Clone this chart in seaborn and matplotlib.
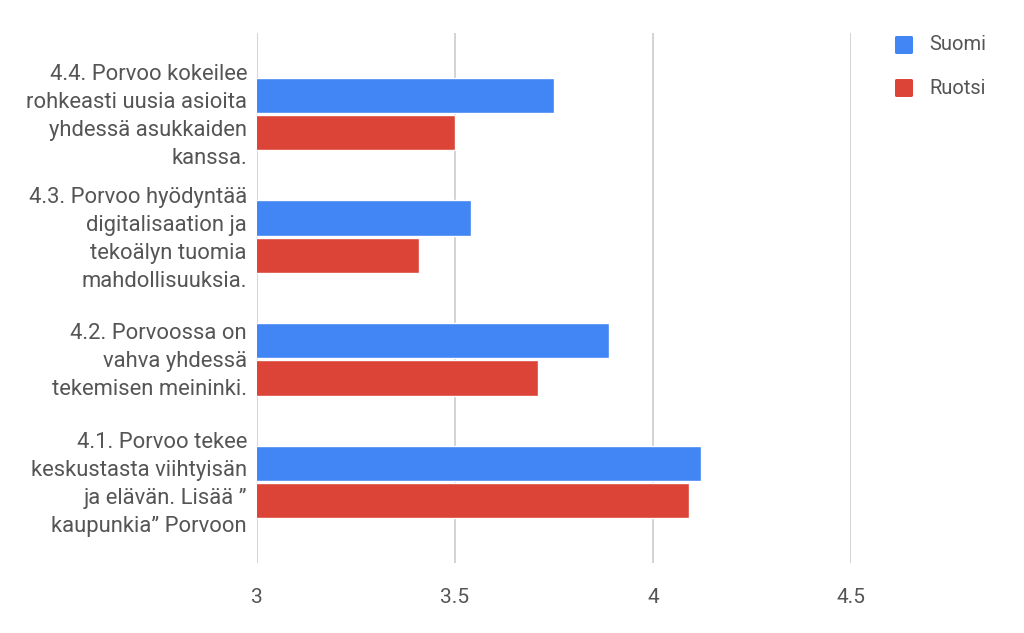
import seaborn as sns
import matplotlib.pyplot as plt
import matplotlib.transforms as mtransforms
import pandas as pd
from matplotlib.patches import FancyBboxPatch

kysymykset = [
    "4.4. Porvoo kokeilee\nrohkeasti uusia asioita\nyhdessä asukkaiden\nkanssa.",
    "4.3. Porvoo hyödyntää\ndigitalisaation ja\ntekoälyn tuomia\nmahdollisuuksia.",
    "4.2. Porvoossa on\nvahva yhdessä\ntekemisen meininki.",
    "4.1. Porvoo tekee\nkeskustasta viihtyisän\nja elävän. Lisää ”\nkaupunkia” Porvoon",
]
suomi = [3.75, 3.54, 3.89, 4.12]
ruotsi = [3.50, 3.41, 3.71, 4.09]
sarjat = ["Suomi", "Ruotsi"]
varit = ["#4285F4", "#DB4437"]
xticks = [3, 3.5, 4, 4.5]

df = pd.DataFrame({
    "kysymys": kysymykset * 2,
    "arvo": suomi + ruotsi,
    "kieli": ["Suomi"] * 4 + ["Ruotsi"] * 4,
})

sns.set_style("white")
plt.rcParams["font.family"] = ["Roboto", "DejaVu Sans"]

fig = plt.figure(figsize=(10.24, 6.33), dpi=100)
ax = fig.add_axes([257 / 1024, 70 / 633, (851 - 257) / 1024, (563 - 33) / 633])

sns.barplot(data=df, x="arvo", y="kysymys", hue="kieli", order=kysymykset,
            hue_order=sarjat, palette=varit, orient="h", width=0.61, gap=0.06,
            saturation=1, ax=ax, legend=False)

ax.set_xlim(3, 4.5)
ax.set_ylim(3.66, -0.66)
ax.set_xticks(xticks)
ax.set_xticklabels(["3", "3.5", "4", "4.5"])
ax.set_yticks(range(len(kysymykset)))
ax.set_yticklabels([])
ax.grid(axis="x", color="#cccccc", linewidth=1.2)
ax.set_axisbelow(True)
for s in ax.spines.values():
    s.set_visible(False)
ax.tick_params(axis="x", length=0, pad=18, labelsize=15, labelcolor="#555555")
ax.tick_params(axis="y", length=0)
ax.set_xlabel("")
ax.set_ylabel("")

# category labels, each line right aligned on its own
trans = mtransforms.blended_transform_factory(ax.transAxes, ax.transData)
for i, teksti in enumerate(kysymykset):
    rivit = teksti.split("\n")
    n = len(rivit)
    for k, rivi in enumerate(rivit):
        dy = -(k - (n - 1) / 2) * 0.28
        t = trans + mtransforms.ScaledTranslation(0, dy, fig.dpi_scale_trans)
        ax.text(-10 / 594, i, rivi, transform=t, ha="right", va="center_baseline",
                fontsize=15.8, color="#555555")

# legend outside the plot, top right
for i, (nimi, vari) in enumerate(zip(sarjat, varit)):
    y = 1 - (45 + i * 43) / 633
    fig.patches.append(FancyBboxPatch((895 / 1024, y - 9 / 633), 18 / 1024, 18 / 633,
                                      boxstyle="round,pad=0,rounding_size=0.002",
                                      transform=fig.transFigure, facecolor=vari,
                                      edgecolor="none"))
    fig.text(929 / 1024, y, nimi, fontsize=14.5, color="#555555", va="center")

plt.savefig("out.png", dpi=100)
